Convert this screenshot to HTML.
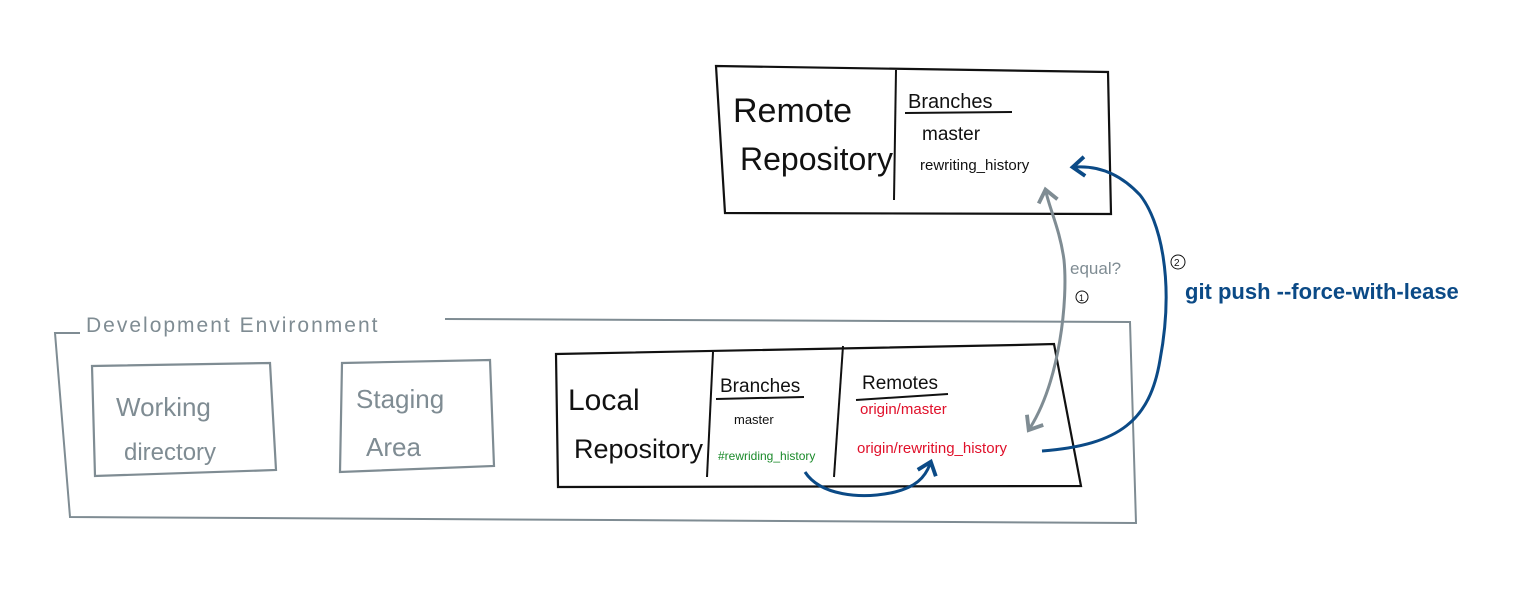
<!DOCTYPE html>
<html><head><meta charset="utf-8"><style>
html,body{margin:0;padding:0;background:#fff;}
svg{display:block;}
text{font-family:"Liberation Sans",sans-serif;}
</style></head><body>
<svg width="1537" height="600" viewBox="0 0 1537 600" xmlns="http://www.w3.org/2000/svg">
<defs>
<marker id="ag" viewBox="0 0 10 10" refX="5" refY="5" markerWidth="8" markerHeight="8" orient="auto-start-reverse"><path d="M1,1 L6,5 L1,9" fill="none" stroke="#7f8c93" stroke-width="1.6"/></marker>
<marker id="ab" viewBox="0 0 10 10" refX="5" refY="5" markerWidth="8" markerHeight="8" orient="auto"><path d="M1,1 L6,5 L1,9" fill="none" stroke="#0b4a86" stroke-width="1.6"/></marker>
</defs>
<!-- Remote box -->
<path d="M716,66 L1108,72 L1111,214 L725,213 Z" fill="none" stroke="#111" stroke-width="2.2"/>
<path d="M896,70 L894,200" stroke="#111" stroke-width="2"/>
<text x="733" y="122" font-size="34" fill="#111">Remote</text>
<text x="740" y="170" font-size="32" fill="#111">Repository</text>
<text x="908" y="108" font-size="20" fill="#111">Branches</text>
<path d="M905,113 L1012,112" stroke="#111" stroke-width="2"/>
<text x="922" y="140" font-size="19" fill="#111">master</text>
<text x="920" y="170" font-size="15" fill="#111">rewriting_history</text>
<!-- Dev env -->
<path d="M445,319 L1130,322 L1136,523 L70,517 L55,333 L80,333" fill="none" stroke="#7f8c93" stroke-width="2"/>
<text x="86" y="332" font-size="21" fill="#7f8c93" letter-spacing="2">Development Environment</text>
<path d="M92,366 L270,363 L276,470 L95,476 Z" fill="none" stroke="#7f8c93" stroke-width="2.2"/>
<text x="116" y="416" font-size="26" fill="#7f8c93">Working</text>
<text x="124" y="460" font-size="24" fill="#7f8c93">directory</text>
<path d="M342,363 L490,360 L494,466 L340,472 Z" fill="none" stroke="#7f8c93" stroke-width="2.2"/>
<text x="356" y="408" font-size="26" fill="#7f8c93">Staging</text>
<text x="366" y="456" font-size="26" fill="#7f8c93">Area</text>
<!-- Local -->
<path d="M556,354 L1016,345 L1054,344 L1081,486 L558,487 Z" fill="none" stroke="#111" stroke-width="2.2"/>
<path d="M713,352 L707,477" stroke="#111" stroke-width="2"/>
<path d="M843,346 L834,477" stroke="#111" stroke-width="2"/>
<text x="568" y="410" font-size="30" fill="#111">Local</text>
<text x="574" y="458" font-size="27" fill="#111">Repository</text>
<text x="720" y="392" font-size="19" fill="#111">Branches</text>
<path d="M716,399 L804,397" stroke="#111" stroke-width="2"/>
<text x="734" y="424" font-size="13" fill="#111">master</text>
<text x="718" y="460" font-size="12" fill="#1a8a2a">#rewriding_history</text>
<text x="862" y="389" font-size="19" fill="#111">Remotes</text>
<path d="M856,400 L948,394" stroke="#111" stroke-width="2"/>
<text x="860" y="414" font-size="15" fill="#e0102a">origin/master</text>
<text x="857" y="453" font-size="15" fill="#e0102a">origin/rewriting_history</text>
<!-- gray arrow -->
<path d="M1030,428 C1060,380 1068,300 1064,260 C1060,230 1050,210 1046,192" fill="none" stroke="#7f8c93" stroke-width="3" marker-start="url(#ag)" marker-end="url(#ag)"/>
<text x="1070" y="274" font-size="17" fill="#7f8c93">equal?</text>
<circle cx="1082" cy="297" r="6" fill="none" stroke="#111" stroke-width="1"/>
<text x="1079" y="301" font-size="9" fill="#111">1</text>
<!-- blue push arrow -->
<path d="M1042,451 C1120,445 1150,420 1160,360 C1175,280 1160,220 1140,195 C1115,168 1090,166 1075,167" fill="none" stroke="#0b4a86" stroke-width="3" marker-end="url(#ab)"/>
<circle cx="1178" cy="262" r="7" fill="none" stroke="#111" stroke-width="1"/>
<text x="1174" y="266" font-size="10" fill="#111">2</text>
<text x="1185" y="299" font-size="22" fill="#0b4a86" font-weight="bold">git push --force-with-lease</text>
<!-- small blue arrow -->
<path d="M805,472 C820,495 860,500 895,492 C915,487 925,478 930,464" fill="none" stroke="#0b4a86" stroke-width="3" marker-end="url(#ab)"/>
</svg>
</body></html>
